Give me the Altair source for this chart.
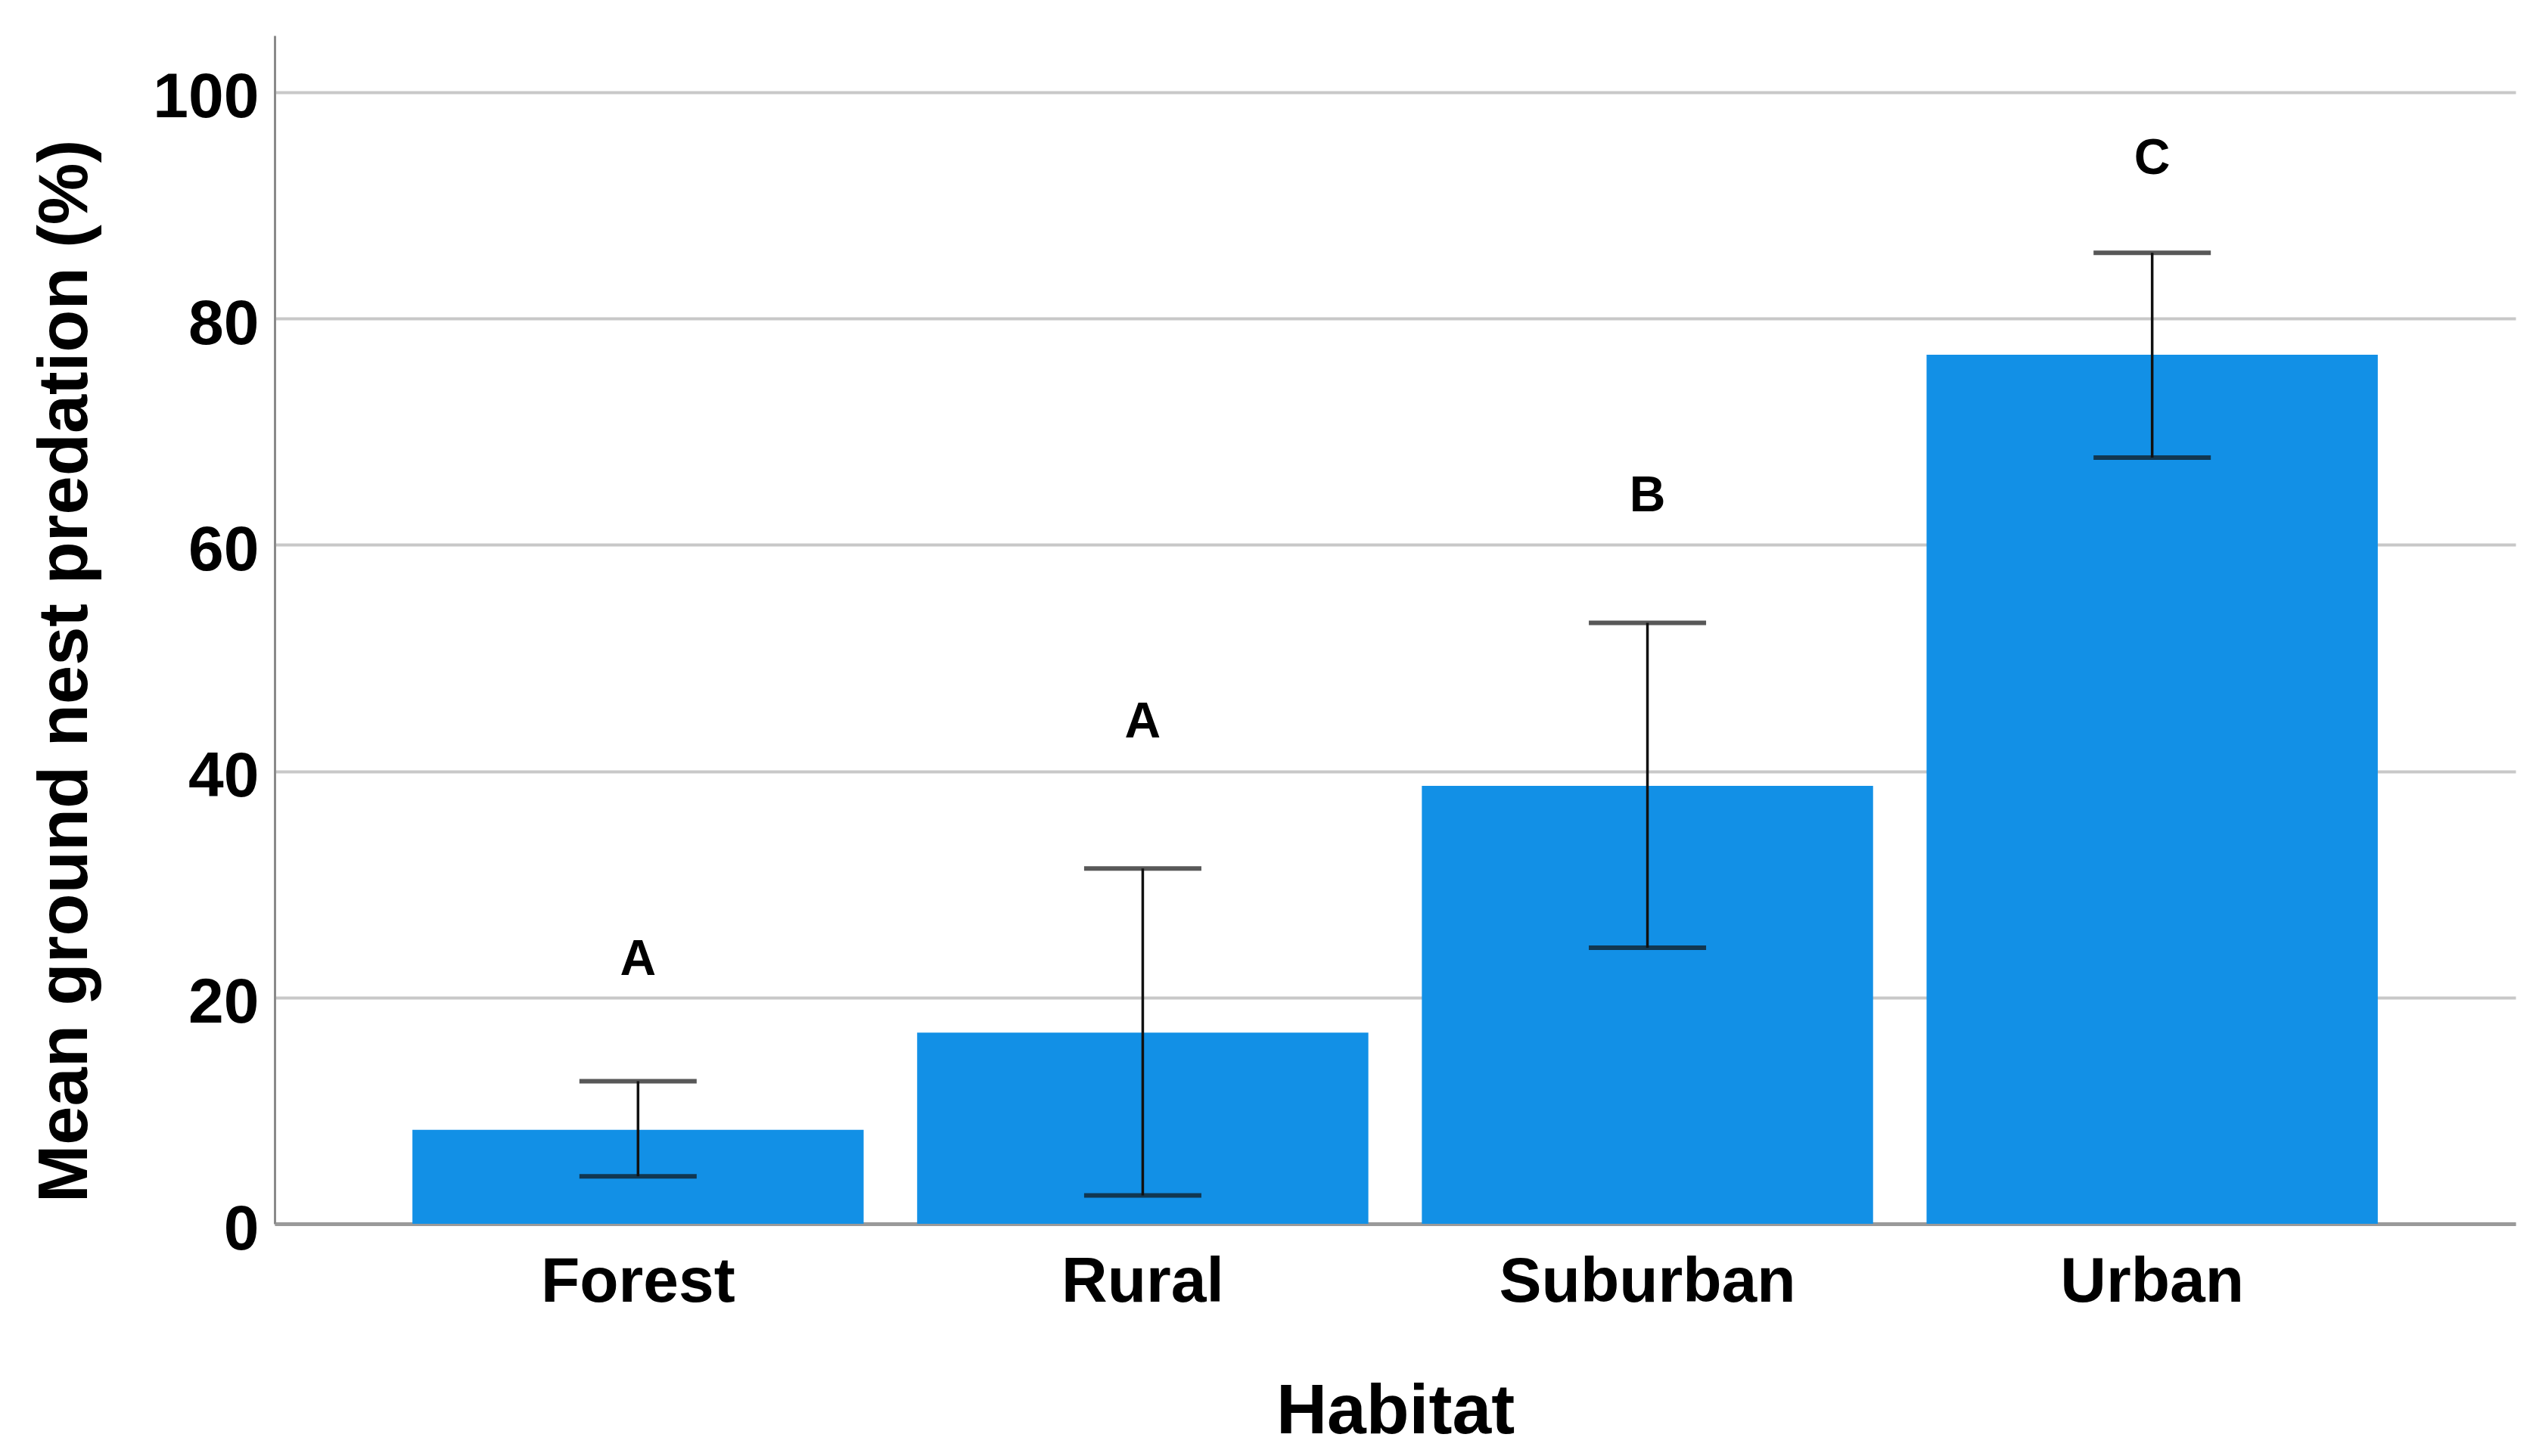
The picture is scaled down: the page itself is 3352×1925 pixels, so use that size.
import altair as alt
import pandas as pd

# ---- data ----
habitat = ["Forest", "Rural", "Suburban", "Urban"]
mean_pred = [8.3, 16.9, 38.7, 76.8]
ci_low = [4.2, 2.5, 24.4, 67.7]
ci_high = [12.6, 31.4, 53.1, 85.8]
group_letter = ["A", "A", "B", "C"]
letter_pos = [23.3, 44.3, 64.3, 94.1]
y_ticks = [0, 20, 40, 60, 80, 100]

df = pd.DataFrame({
    "habitat": habitat,
    "mean": mean_pred,
    "low": ci_low,
    "high": ci_high,
    "letter": group_letter,
    "lpos": letter_pos,
})

FONT = "Liberation Sans"

x_scale = alt.Scale(paddingInner=0.106, paddingOuter=0.273)
y_scale = alt.Scale(domain=[0, 105], nice=False, zero=True)

x_axis = alt.Axis(
    title="Habitat",
    titleFont=FONT, titleFontSize=93, titleFontWeight="bold", titleColor="#000",
    titleY=248, titleBaseline="middle",
    labelFont=FONT, labelFontSize=84, labelFontWeight="bold", labelColor="#000",
    labelAngle=0, labelBaseline="middle", labelPadding=77, labelLimit=0,
    ticks=False, tickSize=0, grid=False,
    domainColor="#9a9a9a", domainWidth=5,
)
y_axis = alt.Axis(
    title="Mean ground nest predation (%)",
    titleFont=FONT, titleFontSize=92, titleFontWeight="bold", titleColor="#000",
    titleAngle=270, titleX=-277, titleY=840, titleAlign="center", titleBaseline="middle",
    titleLimit=0,
    values=y_ticks,
    labelFont=FONT, labelFontSize=84, labelFontWeight="bold", labelColor="#000",
    labelPadding=21, labelBaseline="middle", labelOffset=8, labelLimit=0,
    ticks=False, tickSize=0,
    grid=True, gridColor="#c8c8c8", gridWidth=4,
    domainColor="#8a8a8a", domainWidth=3,
)

X = alt.X("habitat:N", sort=habitat, scale=x_scale, axis=x_axis)
Xp = alt.X("habitat:N", sort=habitat)

bars = alt.Chart(df).mark_bar(color="#1290E6").encode(
    x=X,
    y=alt.Y("mean:Q", scale=y_scale, axis=y_axis),
)
stems = alt.Chart(df).mark_rule(color="#111111", strokeWidth=3.5).encode(
    x=Xp, y=alt.Y("low:Q"), y2="high:Q"
)
cap_hi = alt.Chart(df).mark_tick(color="#111111", thickness=6, size=155).encode(
    x=Xp, y=alt.Y("high:Q")
)
cap_lo = alt.Chart(df).mark_tick(color="#111111", thickness=6, size=155).encode(
    x=Xp, y=alt.Y("low:Q")
)
letters = alt.Chart(df).mark_text(
    font=FONT, fontSize=66, fontWeight="bold", baseline="middle", align="center", color="#000"
).encode(x=Xp, y=alt.Y("lpos:Q"), text="letter:N")

chart = alt.layer(bars, stems, cap_hi, cap_lo, letters).properties(
    width=2962,
    height=1571,
    padding={"left": 355, "top": 39, "right": 19, "bottom": 299},
    autosize=alt.AutoSizeParams(type="none"),
    background="#ffffff",
).configure_view(stroke=None)

chart.save("out.html", embed_options={"renderer": "svg", "actions": False})
